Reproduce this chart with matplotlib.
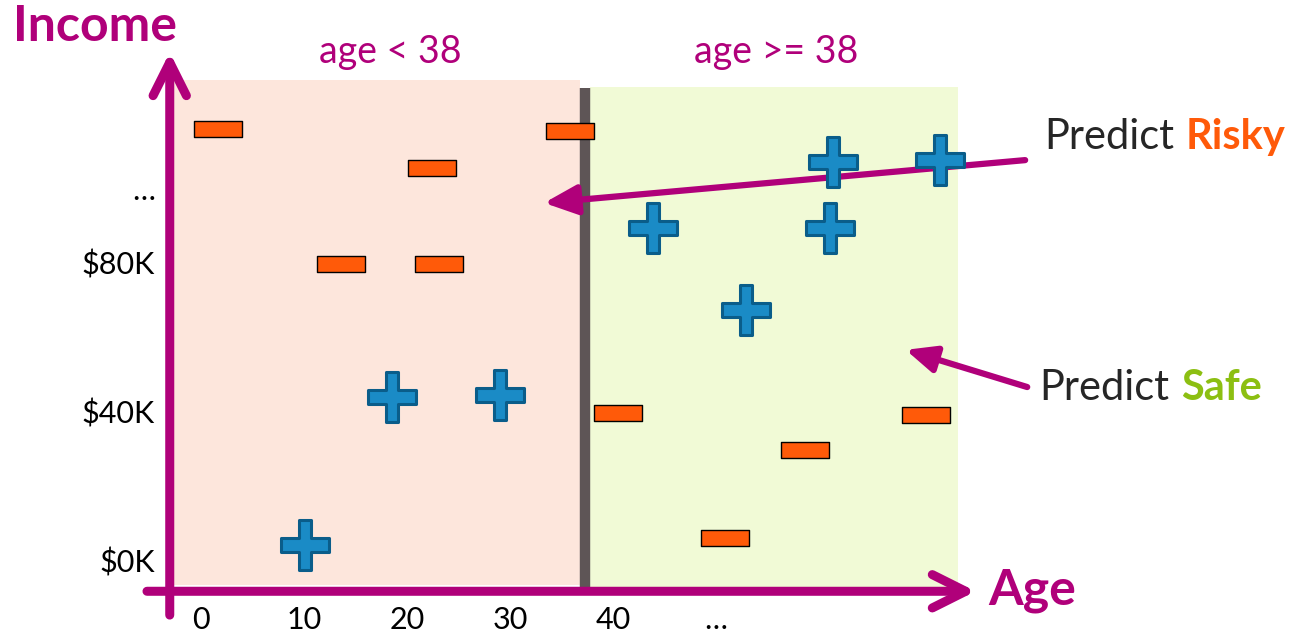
import numpy as np
import matplotlib
matplotlib.use("Agg")
import matplotlib.pyplot as plt
from matplotlib.path import Path

plt.rcParams['font.family'] = ['Lato', 'DejaVu Sans']

# data: age (years) and income ($K)
split_age = 38
risky_age = [2.2, 23.0, 36.4, 14.2, 23.7, 41.1, 59.2, 71.0, 51.5]
risky_income = [116.7, 106.2, 116.1, 80.4, 80.4, 40.3, 30.4, 39.8, 6.7]
safe_age = [10.7, 19.1, 29.6, 44.5, 61.9, 72.3, 61.7, 53.5]
safe_income = [4.8, 44.6, 45.2, 90.1, 107.8, 108.3, 90.1, 68.0]
x_ticks = [0, 10, 20, 30, 40, 50]
x_tick_labels = ['0', '10', '20', '30', '40', '…']
y_ticks = [0, 40, 80, 100]
y_tick_labels = ['$0K', '$40K', '$80K', '…']

magenta = '#b0007a'
orange = '#ff5a09'
green = '#8cbf12'

# markers
minus_marker = Path([(-1.5, -0.5), (1.5, -0.5), (1.5, 0.5), (-1.5, 0.5), (-1.5, -0.5)],
                    [Path.MOVETO, Path.LINETO, Path.LINETO, Path.LINETO, Path.CLOSEPOLY])
a, b, h = 0.27, 0.29, 1.05
plus_verts = [(-a, -h), (a, -h), (a, -b), (1, -b), (1, b), (a, b), (a, h), (-a, h),
              (-a, b), (-1, b), (-1, -b), (-a, -b), (-a, -h)]
plus_marker = Path(plus_verts, [Path.MOVETO] + [Path.LINETO] * 11 + [Path.CLOSEPOLY])

fig = plt.figure(figsize=(12.98, 6.37), dpi=100)
ax = fig.add_axes([0, 0, 1, 1])
ax.set_xlim(-18.93, 107.09)
ax.set_ylim(-19.89, 151.34)
ax.axis('off')

# regions
ax.fill_between([-2.33, split_age - 0.6], -5.9, 129.8, color='#fde6dc', lw=0, zorder=0)
ax.fill_between([split_age + 0.35, 74.1], -7.3, 128.0, color='#f1fad6', lw=0, zorder=0)
ax.plot([split_age - 0.15, split_age - 0.15], [-7.8, 127.7], color='#5e5556', lw=7.5,
        solid_capstyle='butt', zorder=1)

# axes arrows
ax.annotate('', xy=(-2.45, 137.3), xytext=(-2.45, -14.0),
            arrowprops=dict(arrowstyle='->,head_length=1.2,head_width=0.6', color=magenta,
                            lw=6.5, shrinkA=0, shrinkB=0, mutation_scale=20,
                            capstyle='round', joinstyle='round'), zorder=3)
ax.annotate('', xy=(75.8, -7.6), xytext=(-4.66, -7.6),
            arrowprops=dict(arrowstyle='->,head_length=1.2,head_width=0.6', color=magenta,
                            lw=6.5, shrinkA=0, shrinkB=0, mutation_scale=20,
                            capstyle='round', joinstyle='round'), zorder=3)

# prediction arrows
ax.annotate('', xy=(33.9, 96.8), xytext=(80.6, 108.3),
            arrowprops=dict(arrowstyle='-|>,head_length=1.0,head_width=0.45', color=magenta,
                            lw=4.5, shrinkA=0, shrinkB=0, mutation_scale=20), zorder=2)
ax.annotate('', xy=(69.0, 57.3), xytext=(80.8, 47.3),
            arrowprops=dict(arrowstyle='-|>,head_length=0.9,head_width=0.4', color=magenta,
                            lw=4.5, shrinkA=0, shrinkB=0, mutation_scale=20), zorder=2)

# points
ax.plot(risky_age, risky_income, ls='none', marker=minus_marker, ms=34,
        mfc=orange, mec='black', mew=1.0, zorder=4)
ax.plot(safe_age, safe_income, ls='none', marker=plus_marker, ms=36,
        mfc='#1a8bc6', mec='#0a5d8a', mew=2.2, zorder=4)

# ticks
for xv, lab in zip(x_ticks, x_tick_labels):
    ax.text(xv + 0.6, -15.3, lab, ha='center', va='center', fontsize=22, color='black')
for yv, lab in zip(y_ticks, y_tick_labels):
    ax.text(-3.9, yv, lab, ha='right', va='center', fontsize=22, color='black')

# labels
ax.text(-17.7, 144.1, 'Income', ha='left', va='center', fontsize=36,
        fontweight='bold', color=magenta)
ax.text(77.0, -7.5, 'Age', ha='left', va='center', fontsize=36,
        fontweight='bold', color=magenta)
ax.text(19.0, 137.4, 'age < 38', ha='center', va='center', fontsize=27, color=magenta)
ax.text(56.4, 137.4, 'age >= 38', ha='center', va='center', fontsize=27, color=magenta)

t1 = ax.text(82.5, 114.5, 'Predict', ha='left', va='center', fontsize=30, color='#262626')
ax.annotate('Risky', xy=(1, 0), xycoords=t1, xytext=(8, 0), textcoords='offset points',
            ha='left', va='bottom', fontsize=30, fontweight='bold', color=orange)
t2 = ax.text(82.0, 47.0, 'Predict', ha='left', va='center', fontsize=30, color='#262626')
ax.annotate('Safe', xy=(1, 0), xycoords=t2, xytext=(8, 0), textcoords='offset points',
            ha='left', va='bottom', fontsize=30, fontweight='bold', color=green)

fig.savefig('out.png', dpi=100)
